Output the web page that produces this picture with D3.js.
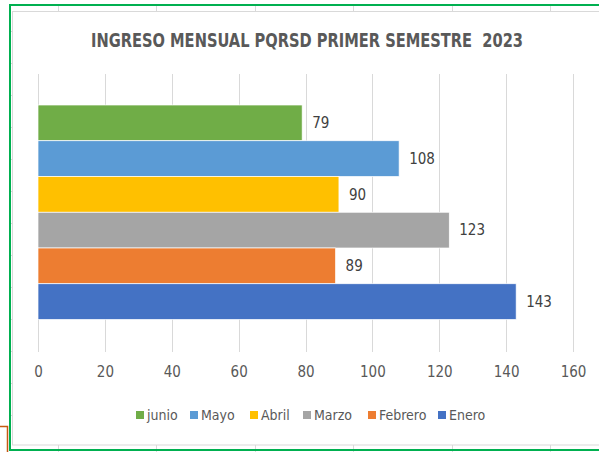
<!DOCTYPE html>
<html>
<head>
<meta charset="utf-8">
<script src="https://cdn.jsdelivr.net/npm/d3@7"></script>
<style>
  body { margin: 0; background: #fff; }
  svg { display: block; }
  text { font-family: "Liberation Sans Narrow", "DejaVu Sans Condensed", "Liberation Sans", sans-serif; }
</style>
</head>
<body>
<svg id="chart" width="599" height="452"></svg>
<script>
const months = ["junio", "Mayo", "Abril", "Marzo", "Febrero", "Enero"];
const values = [79, 108, 90, 123, 89, 143];
const colors = ["#70AD47", "#5B9BD5", "#FFC000", "#A5A5A5", "#ED7D31", "#4472C4"];
const xTicks = [0, 20, 40, 60, 80, 100, 120, 140, 160];
const title = "INGRESO MENSUAL PQRSD PRIMER SEMESTRE  2023";

const svg = d3.select("#chart");

// spreadsheet cells behind the chart
const cellLines = svg.append("g").attr("stroke", "#d9d9d9").attr("stroke-width", 1);
[58, 156, 255, 353, 452, 550].forEach(x => {
    cellLines.append("line").attr("x1", x + 0.5).attr("x2", x + 0.5).attr("y1", 5).attr("y2", 11);
    cellLines.append("line").attr("x1", x + 0.5).attr("x2", x + 0.5).attr("y1", 445).attr("y2", 452);
});
[31, 63, 95, 127, 159, 191, 223, 255, 287, 319, 351, 383, 415].forEach(y => {
    cellLines.append("line").attr("x1", 10).attr("x2", 12).attr("y1", y + 0.5).attr("y2", y + 0.5);
});

// chart area
svg.append("rect")
    .attr("x", 12.5).attr("y", 11.5)
    .attr("width", 600).attr("height", 433.5)
    .attr("fill", "#fff")
    .attr("stroke", "#d9d9d9");

// orange fragment bottom-left
svg.append("path")
    .attr("d", "M0,426.5 H7.5 V452")
    .attr("fill", "none")
    .attr("stroke", "#C55A11")
    .attr("stroke-width", 1.5);

// green selection border
svg.append("rect")
    .attr("x", 10).attr("y", 5)
    .attr("width", 600).attr("height", 445)
    .attr("fill", "none")
    .attr("stroke", "#00B050")
    .attr("stroke-width", 2);

const plotTop = 74, plotBottom = 352;

const x = d3.scaleLinear().domain([0, 160]).range([38, 573]);
const y = d3.scaleBand().domain(months).range([105, 319.5]).padding(0);

// gridlines
svg.append("g")
    .selectAll("line")
    .data(xTicks)
    .join("line")
    .attr("x1", d => Math.round(x(d)) + 0.5)
    .attr("x2", d => Math.round(x(d)) + 0.5)
    .attr("y1", plotTop)
    .attr("y2", plotBottom)
    .attr("stroke", "#d9d9d9")
    .attr("stroke-width", 1);

// bars
svg.append("g")
    .selectAll("rect")
    .data(months)
    .join("rect")
    .attr("x", x(0))
    .attr("y", d => y(d))
    .attr("width", (d, i) => x(values[i]) - x(0))
    .attr("height", y.bandwidth())
    .attr("fill", (d, i) => colors[i])
    .attr("stroke", "#fff")
    .attr("stroke-width", 0.7);

// value labels
svg.append("g")
    .selectAll("text")
    .data(months)
    .join("text")
    .attr("x", (d, i) => x(values[i]) + 10)
    .attr("y", d => y(d) + y.bandwidth() / 2)
    .attr("dy", "0.35em")
    .attr("font-size", 15)
    .attr("fill", "#404040")
    .text((d, i) => values[i]);

// x axis labels
const axis = d3.axisBottom(x).tickValues(xTicks).tickSize(0).tickPadding(0);
const gAxis = svg.append("g").attr("transform", `translate(0,${plotBottom + 14})`).call(axis);
gAxis.select(".domain").remove();
gAxis.selectAll("text")
    .attr("font-size", 15)
    .attr("fill", "#595959")
    .attr("font-family", null);

// title (double space kept)
svg.append("text")
    .attr("x", 307)
    .attr("y", 47)
    .attr("text-anchor", "middle")
    .attr("font-size", 19)
    .attr("font-weight", "bold")
    .attr("fill", "#595959")
    .style("white-space", "pre")
    .attr("textLength", 432)
    .attr("lengthAdjust", "spacingAndGlyphs")
    .text(title);

// legend
const legendX = [136, 190, 250, 303, 368, 438];
const legend = svg.append("g")
    .selectAll("g")
    .data(months)
    .join("g")
    .attr("transform", (d, i) => `translate(${legendX[i]},415)`);
legend.append("rect")
    .attr("x", 0).attr("y", -4)
    .attr("width", 8).attr("height", 8)
    .attr("fill", (d, i) => colors[i]);
legend.append("text")
    .attr("x", 11)
    .attr("y", 0)
    .attr("dy", "0.35em")
    .attr("font-size", 14)
    .attr("fill", "#595959")
    .text(d => d);
</script>
</body>
</html>
